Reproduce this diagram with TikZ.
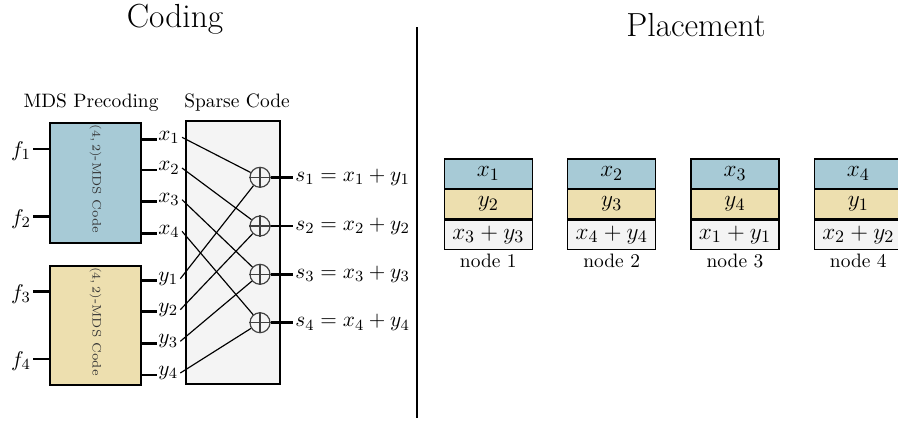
\documentclass[tikz,border=0pt]{standalone}
\usetikzlibrary{fit}
\definecolor{mdsblue}{RGB}{167,202,214}
\definecolor{mdstan}{RGB}{237,223,175}
\definecolor{sparsegray}{RGB}{244,244,244}
\begin{document}
\begin{tikzpicture}[x=0.515pt,y=-0.515pt,
  title/.style={font=\fontsize{17.2}{20}\selectfont, inner sep=0},
  lbl/.style={font=\fontsize{10}{12}\selectfont, inner sep=0},
  mlbl/.style={font=\fontsize{10.8}{12}\selectfont, inner sep=1pt},
  boxframe/.style={draw, line width=0.7pt, inner sep=0},
  thickln/.style={line width=1.4pt},
  wire/.style={line width=0.6pt},
  xorc/.style={circle, draw=black!75, line width=0.6pt, minimum size=10.3pt, inner sep=0},
  cell/.style={draw, line width=0.6pt, minimum width=45.3pt, minimum height=15.1pt, inner sep=0, font=\fontsize{12.6}{14}\selectfont},
  rottxt/.style={rotate=-90, font=\fontsize{6.3}{8}\selectfont, inner sep=0, text=black!80},
]
\useasboundingbox (0,0) rectangle (898,422);

% titles
\node[title] (tcoding) at (175,19) {Coding};
\node[title] (tplace) at (696,25) {Placement};
\coordinate (vtop) at (417,27);
\coordinate (vbot) at (417,418);
\draw[line width=1.3pt] (vtop) -- (vbot);

% section labels
\node[lbl] (lmds) at (91,103) {MDS Precoding};
\node[lbl] (lsp) at (237,103) {Sparse Code};

% boxes
\node[boxframe, fill=mdsblue, fit={(50,123) (141,243)}] (mdsa) {};
\node[boxframe, fill=mdstan, fit={(50,266) (141,385)}] (mdsb) {};
\node[boxframe, fill=sparsegray, fit={(186,121) (280,384)}] (sparse) {};
\node[rottxt] (ta) at (95.5,179) {$(4,2)$-MDS Code};
\node[rottxt] (tb) at (95.5,321.5) {$(4,2)$-MDS Code};

% inputs
\node[mlbl] (f1) at (21,151) {$f_1$};
\node[mlbl] (f2) at (21,219) {$f_2$};
\node[mlbl] (f3) at (21,294) {$f_3$};
\node[mlbl] (f4) at (21,361) {$f_4$};
\foreach \i/\yy in {1/149,2/216.7,3/291.7,4/359}{
  \coordinate (fin\i) at (33,\yy);
  \draw[thickln] (fin\i) -- (fin\i -| mdsa.west);
}

% outputs of MDS codes
\foreach \i/\yy in {1/139.3,2/170,3/201.7,4/233.3}{
  \coordinate (xo\i) at (mdsa.east |- 0,\yy);
  \node[mlbl, anchor=west] (x\i) at (156,\yy-2) {$x_{\i}$};
  \draw[thickln] (xo\i) -- (157,\yy);
}
\foreach \i/\yy in {1/280.7,2/311.7,3/343.3,4/375}{
  \coordinate (yo\i) at (mdsb.east |- 0,\yy);
  \node[mlbl, anchor=west] (y\i) at (156,\yy-2) {$y_{\i}$};
  \draw[thickln] (yo\i) -- (157,\yy);
}

% xor nodes
\foreach \i/\yy in {1/177.3,2/226,3/274.3,4/322.7}{
  \node[xorc] (c\i) at (260,\yy) {};
  \draw[black!75, line width=0.6pt] (c\i.north) -- (c\i.south) (c\i.west) -- (c\i.east);
  \node[mlbl, anchor=west] (s\i) at (293,\yy) {$s_{\i}=x_{\i}+y_{\i}$};
  \draw[thickln] (c\i.east) -- (s\i.west);
  \draw[wire] (x\i.east) -- (c\i);
  \draw[wire] (y\i.east) -- (c\i);
}

% placement
\foreach \k/\xx/\a/\b/\c in {1/488.3/x_1/y_2/x_3+y_3, 2/611.7/x_2/y_3/x_4+y_4, 3/735/x_3/y_4/x_1+y_1, 4/858.3/x_4/y_1/x_2+y_2}{
  \node[cell, fill=mdsblue] (n\k a) at (\xx,173.7) {$\a$};
  \node[cell, fill=mdstan, anchor=north] (n\k b) at (n\k a.south) {$\b$};
  \node[cell, fill=sparsegray, anchor=north] (n\k c) at (n\k b.south) {$\c$};
  \node[lbl, anchor=north] (n\k l) at ([yshift=-2pt]n\k c.south) {node \k};
}
\end{tikzpicture}
\end{document}
